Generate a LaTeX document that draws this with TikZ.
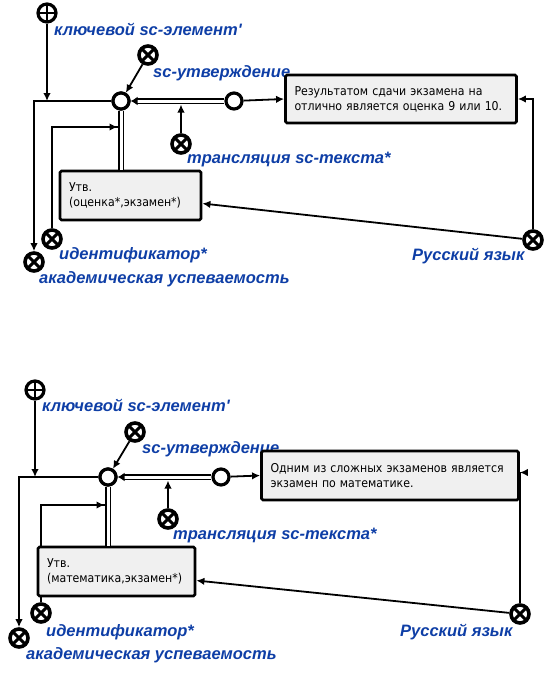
\documentclass[tikz,border=0pt]{standalone}
\usepackage{fontspec}
\setmainfont{Liberation Sans}
\newfontfamily\lblfont{Liberation Sans}
\newfontfamily\boxfont[FakeStretch=0.9]{DejaVu Sans}
\usetikzlibrary{arrows.meta,calc}
\definecolor{lblblue}{RGB}{14,62,166}
\definecolor{boxgray}{RGB}{240,240,240}
\begin{document}
\begin{tikzpicture}[x=1pt,y=-1pt,
  conn/.style={circle,draw,fill=white,line width=3.2pt,minimum size=16pt,inner sep=0},
  keyel/.style={circle,draw,fill=white,line width=3.2pt,minimum size=18pt,inner sep=0,
    path picture={\draw[line width=2.2pt] (path picture bounding box.north) -- (path picture bounding box.south) (path picture bounding box.west) -- (path picture bounding box.east);}},
  classel/.style={circle,draw,fill=white,line width=3.6pt,minimum size=18pt,inner sep=0,
    path picture={\draw[line width=3pt] (path picture bounding box.north west) -- (path picture bounding box.south east) (path picture bounding box.south west) -- (path picture bounding box.north east);}},
  lbl/.style={font=\lblfont\bfseries\itshape\fontsize{16.5}{19}\selectfont,text=lblblue,anchor=base west,inner sep=0},
  txtbox/.style={draw,line width=2.8pt,fill=boxgray,rounded corners=1.5pt,inner xsep=9pt,inner ysep=0pt,align=left,
    font=\boxfont\fontsize{12.2}{15}\selectfont},
  arr/.style={line width=1.8pt,-{Latex[length=8pt,width=7.5pt]}},
  ln/.style={line width=1.8pt},
  dbl/.style={double=white,double distance=3pt,line width=1.8pt},
]
\useasboundingbox (0,0) rectangle (554,673);

% ================= top diagram =================
\node[keyel] (aKE) at (47,13) {};
\node[lbl] (aKEl) at (54,35) {ключевой sc-элемент'};
\node[classel] (aSU) at (148,55) {};
\node[lbl] (aSUl) at (153,77) {sc-утверждение};
\node[classel] (aTR) at (181,144) {};
\node[lbl] (aTRl) at (187,163) {трансляция sc-текста*};
\node[classel] (aID) at (52,239) {};
\node[lbl] (aIDl) at (59,259) {идентификатор*};
\node[classel] (aAU) at (34,262) {};
\node[lbl] (aAUl) at (39,283) {академическая успеваемость};
\node[classel] (aRU) at (533,240) {};
\node[lbl] (aRUl) at (412,260) {Русский язык};

\node[conn] (aC1) at (121,101) {};
\node[conn] (aC2) at (234,101) {};

\coordinate (aK1) at (aKE |- aC1);
\coordinate (aI1) at (117.5,127);
\coordinate (aT1) at (aTR |- 0,104.5);

\draw[ln] (aID) |- (aI1);
\draw[arr] (aID |- 0,127) -- (aI1);

\node[txtbox,minimum width=231pt,minimum height=48pt,text width=213pt] (aRES) at (401,99)
  {Результатом сдачи экзамена на\\отлично является оценка 9 или 10.};
\node[txtbox,minimum width=141pt,minimum height=49pt,text width=123pt] (aUTV) at (130.5,195.5)
  {Утв.\\(оценка*,экзамен*)};

\coordinate (aU1) at (aC1 |- aUTV.north);
\draw[dbl] (aC1) -- (aU1);
\draw[arr] (aC1) -| (aAU);
\draw[arr] (aKE) -- (aK1);
\draw[arr] (aSU) -- (aC1);
\draw[dbl,-{Latex[length=7pt,width=9pt]}] (aC2) -- (aC1);
\draw[arr] (aTR) -- (aT1);
\draw[arr] (aC2) -- (aRES.west);
\draw[arr] (aRU) |- (aRES.east);
\draw[arr] (aRU) -- ([yshift=-8pt]aUTV.east);
\node[conn] at (aC1) {};

% ================= bottom diagram =================
\node[keyel] (bKE) at (35,390) {};
\node[lbl] (bKEl) at (42,411) {ключевой sc-элемент'};
\node[classel] (bSU) at (135,432) {};
\node[lbl] (bSUl) at (142,453) {sc-утверждение};
\node[classel] (bTR) at (168,519) {};
\node[lbl] (bTRl) at (173,539) {трансляция sc-текста*};
\node[classel] (bID) at (41,613) {};
\node[lbl] (bIDl) at (46,636) {идентификатор*};
\node[classel] (bAU) at (19,638) {};
\node[lbl] (bAUl) at (26,659) {академическая успеваемость};
\node[classel] (bRU) at (520,614) {};
\node[lbl] (bRUl) at (400,636) {Русский язык};

\node[conn] (bC1) at (108,477) {};
\node[conn] (bC2) at (221,477) {};

\coordinate (bI1) at (104.5,505);
\coordinate (bT1) at (bTR |- 0,480.5);
\coordinate (bK1) at (bKE |- bC1);

\draw[ln] (bID) |- (bI1);
\draw[arr] (bID |- 0,505) -- (bI1);

\node[txtbox,minimum width=257pt,minimum height=49pt,text width=239pt] (bRES) at (390,475.5)
  {Одним из сложных экзаменов является\\экзамен по математике.};
\node[txtbox,minimum width=157pt,minimum height=49pt,text width=139pt] (bUTV) at (116.5,571.5)
  {Утв.\\(математика,экзамен*)};

\coordinate (bU1) at (bC1 |- bUTV.north);
\draw[dbl] (bC1) -- (bU1);
\draw[arr] (bC1) -| (bAU);
\draw[arr] (bKE) -- (bK1);
\draw[arr] (bSU) -- (bC1);
\draw[dbl,-{Latex[length=7pt,width=9pt]}] (bC2) -- (bC1);
\draw[arr] (bTR) -- (bT1);
\draw[arr] (bC2) -- (bRES.west);
\draw[arr] (bRU) |- ([yshift=3pt]bRES.east);
\draw[arr] (bRU) -- ([yshift=-9pt]bUTV.east);
\node[conn] at (bC1) {};
\end{tikzpicture}
\end{document}
